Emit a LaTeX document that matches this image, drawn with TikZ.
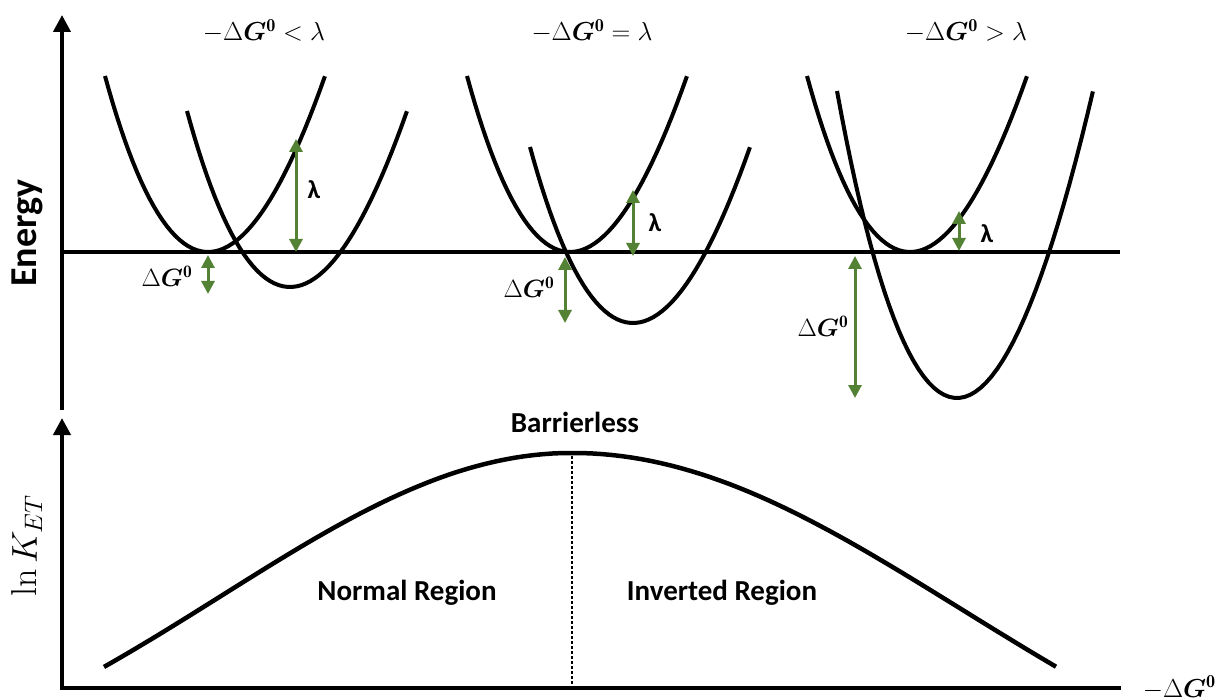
\RequirePackage{fix-cm}
\documentclass[tikz,border=0pt]{standalone}
\usepackage{fontspec}
\setsansfont{Carlito}
\usepackage{bm}
\usetikzlibrary{arrows.meta}
\definecolor{arrowgreen}{HTML}{548235}
\tikzset{
  axisline/.style={line width=4pt,-{Triangle[width=17pt,length=17pt]}},
  pes/.style={line width=4pt,line join=round},
  gaparrow/.style={arrowgreen,line width=3pt,{Triangle[width=13pt,length=13pt]}-{Triangle[width=13pt,length=13pt]}},
  lab/.style={font=\sffamily\bfseries\fontsize{26}{30}\selectfont,inner sep=0pt},
  regionlab/.style={font=\sffamily\bfseries\fontsize{29}{34}\selectfont,inner sep=0pt},
  mathlab/.style={font=\fontsize{25}{29}\selectfont,inner sep=0pt},
  title/.style={font=\fontsize{26}{30}\selectfont,inner sep=0pt}
}
\begin{document}
\begin{tikzpicture}[x=1pt,y=-1pt]
\useasboundingbox (0,0) rectangle (1217,700);

% energy panel
\coordinate (eo) at (62,410);
\coordinate (et) at (62,15);
\coordinate (bl) at (62,252);
\coordinate (br) at (1120,252);
\draw[axisline] (eo) -- (et);
\draw[line width=3.5pt] (bl) -- (br);
\node[font=\sffamily\bfseries\fontsize{38}{44}\selectfont,rotate=90] (energy) at (27,233) {Energy};

\foreach \xa/\xb/\yb/\wb/\cb/\hb in {208/290/287/110/7/176,570/633/323/110/7/176,910/957/398/128/8/307}
{
\draw[pes] plot[domain=-1:1,samples=50,variable=\t] ({\xa+110*\t+7*\t*\t},{252-176*\t*\t});
\draw[pes] plot[domain=-1:1,samples=50,variable=\t] ({\xb+\wb*\t+\cb*\t*\t},{\yb-\hb*\t*\t});
}

\node[title,anchor=base] (t1) at (264,41) {$-\Delta\bm{G}^{\mathbf{0}} < \lambda$};
\node[title,anchor=base] (t2) at (592,41) {$-\Delta\bm{G}^{\mathbf{0}} = \lambda$};
\node[title,anchor=base] (t3) at (966,41) {$-\Delta\bm{G}^{\mathbf{0}} > \lambda$};

% green gaps
\coordinate (l1t) at (296,139); \coordinate (l1b) at (296,252);
\coordinate (g1t) at (208,255); \coordinate (g1b) at (208,294);
\coordinate (l2t) at (633,190); \coordinate (l2b) at (633,256);
\coordinate (g2t) at (565,257); \coordinate (g2b) at (565,323);
\coordinate (l3t) at (959,211); \coordinate (l3b) at (959,251);
\coordinate (g3t) at (855,256); \coordinate (g3b) at (855,398);
\foreach \a/\b in {l1t/l1b,g1t/g1b,l2t/l2b,g2t/g2b,l3t/l3b,g3t/g3b}
  \draw[gaparrow] (\a) -- (\b);

\node[lab,anchor=base] (lam1) at (314,199) {λ};
\node[lab,anchor=base] (lam2) at (655,232) {λ};
\node[lab,anchor=base] (lam3) at (987,243) {λ};
\node[mathlab,anchor=base] (dg1) at (167,287) {$\Delta\bm{G}^{\mathbf{0}}$};
\node[mathlab,anchor=base] (dg2) at (529,298) {$\Delta\bm{G}^{\mathbf{0}}$};
\node[mathlab,anchor=base] (dg3) at (823,337) {$\Delta\bm{G}^{\mathbf{0}}$};

% rate panel
\coordinate (ko) at (62,688);
\coordinate (kt) at (62,418);
\coordinate (kr) at (1121,688);
\draw[axisline] (kr) -- (ko) -- (kt);
\draw[line width=4.5pt] plot[domain=-4.68:0,samples=50,variable=\t] ({572+100*\t},{453+362*(1-exp(-\t*\t/24.5))})
  -- plot[domain=0:4.84,samples=50,variable=\t] ({572+100*\t},{453+398*(1-exp(-\t*\t/30.42))});
\coordinate (peak) at (572,456);
\coordinate (foot) at (572,688);
\draw[line width=2.2pt,dash pattern=on 2.5pt off 2.5pt] (peak) -- (foot);

\node[font=\fontsize{36}{42}\selectfont,rotate=90] (lnk) at (27,546) {$\ln K_{ET}$};
\node[title,anchor=base east] (xlab) at (1216,697) {$-\Delta\bm{G}^{\mathbf{0}}$};
\node[regionlab,anchor=base] (barrier) at (575,432) {Barrierless};
\node[regionlab,anchor=base] (normal) at (407,600) {Normal Region};
\node[regionlab,anchor=base] (inverted) at (722,600) {Inverted Region};
\end{tikzpicture}
\end{document}
